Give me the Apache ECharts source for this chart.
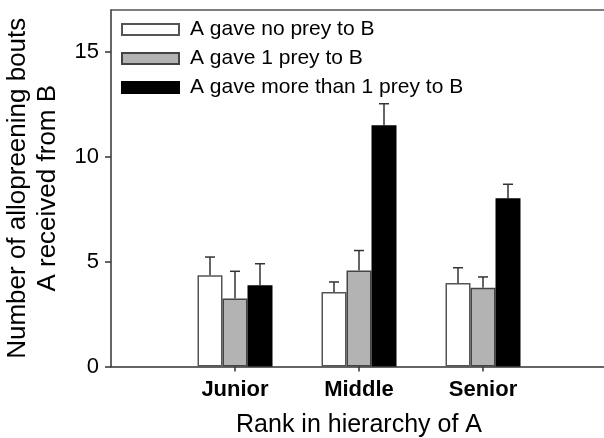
<!DOCTYPE html>
<html>
<head>
<meta charset="utf-8">
<script src="https://cdn.jsdelivr.net/npm/echarts@6/dist/echarts.min.js"></script>
<style>
	html, body { margin: 0; padding: 0; background: #fff; overflow: hidden; }
	#chart { width: 604px; height: 438px; }
</style>
</head>
<body>
<div id="chart"></div>
<script>
// 数据
let categories = ['Junior', 'Middle', 'Senior'];
let series_names = ['A gave no prey to B', 'A gave 1 prey to B', 'A gave more than 1 prey to B'];
let none_values = [4.35, 3.55, 3.98];
let one_values = [3.24, 4.58, 3.76];
let more_values = [3.87, 11.51, 8.02];
let none_se = [0.87, 0.48, 0.73];
let one_se = [1.30, 0.95, 0.51];
let more_se = [1.03, 1.02, 0.67];
let y_ticks = [0, 5, 10, 15];

let font = 'Liberation Sans, Arial, sans-serif';
let bar_width = 25;
let colors = ['#ffffff', '#b3b3b3', '#000000'];
let borders = ['#555555', '#444444', '#000000'];
let values = [none_values, one_values, more_values];
let ses = [none_se, one_se, more_se];

let chart = echarts.init(document.getElementById('chart'));

let series = [];
values.forEach((v, i) => {
	series.push({
		name: series_names[i],
		type: 'bar',
		xAxisIndex: 1,
		yAxisIndex: 1,
		barWidth: bar_width,
		barGap: '0%',
		data: v,
		itemStyle: { color: colors[i], borderColor: borders[i], borderWidth: 1.5 },
		emphasis: { disabled: true },
	});
});
// 误差线 只画上半
values.forEach((v, i) => {
	series.push({
		type: 'custom',
		xAxisIndex: 1,
		yAxisIndex: 1,
		silent: true,
		z: 1,
		data: v.map((val, j) => [j, val, ses[i][j]]),
		renderItem: (params, api) => {
			let base = api.coord([api.value(0), api.value(1)]);
			let top = api.coord([api.value(0), api.value(1) + api.value(2)]);
			let x = base[0] + (i - 1) * bar_width;
			let style = { stroke: '#333', lineWidth: 1.5 };
			return {
				type: 'group',
				children: [
					{ type: 'line', shape: { x1: x, y1: base[1], x2: x, y2: top[1] }, style: style },
					{ type: 'line', shape: { x1: x - 5, y1: top[1], x2: x + 5, y2: top[1] }, style: style },
				],
			};
		},
	});
});

let line_style = { color: '#333', width: 1.5 };

let option = {
	animation: false,
	textStyle: { fontFamily: font },
	legend: {
		orient: 'vertical',
		left: 121,
		top: 19,
		padding: 0,
		itemWidth: 57,
		itemHeight: 11,
		itemGap: 8,
		icon: 'rect',
		data: series_names,
		textStyle: { fontSize: 21, color: '#000', fontFamily: font, padding: [0, 0, 0, 6] },
	},
	grid: [
		{ left: 111, top: 10, right: -60, bottom: 71.5, outerBoundsMode: 'none', containLabel: false },
		{ left: 173, top: 10, width: 372, bottom: 71.5, outerBoundsMode: 'none', containLabel: false },
	],
	xAxis: [
		{
			type: 'value',
			gridIndex: 0,
			min: 0,
			max: 1,
			axisLine: { show: true, lineStyle: line_style },
			axisTick: { show: false },
			axisLabel: { show: false },
			splitLine: { show: false },
		},
		{
			type: 'category',
			gridIndex: 1,
			data: categories,
			axisLine: { show: false },
			axisTick: { show: true, alignWithLabel: true, length: 5, lineStyle: line_style },
			axisLabel: { fontSize: 22, fontWeight: 'bold', color: '#000', margin: 12, fontFamily: font },
			name: 'Rank in hierarchy of A',
			nameLocation: 'middle',
			nameGap: 46,
			nameTextStyle: { fontSize: 25, color: '#000', fontFamily: font },
		},
		{
			// 顶部框线
			type: 'value',
			gridIndex: 0,
			position: 'top',
			min: 0,
			max: 1,
			axisLine: { show: true, lineStyle: { color: '#555', width: 1.5 } },
			axisTick: { show: false },
			axisLabel: { show: false },
			splitLine: { show: false },
		},
	],
	yAxis: [
		{
			type: 'value',
			gridIndex: 0,
			min: 0,
			max: 17,
			interval: 5,
			axisLine: { show: true, lineStyle: line_style },
			axisTick: { show: true, inside: false, length: 6, customValues: y_ticks, lineStyle: line_style },
			axisLabel: { fontSize: 22, color: '#000', margin: 12, customValues: y_ticks, fontFamily: font },
			splitLine: { show: false },
			name: 'Number of allopreening bouts\nA received from B',
			nameLocation: 'middle',
			nameGap: 48,
			nameTextStyle: { fontSize: 26, lineHeight: 30, color: '#000', fontFamily: font },
		},
		{
			type: 'value',
			gridIndex: 1,
			min: 0,
			max: 17,
			show: false,
		},
	],
	series: series,
};
chart.setOption(option);
</script>
</body>
</html>
